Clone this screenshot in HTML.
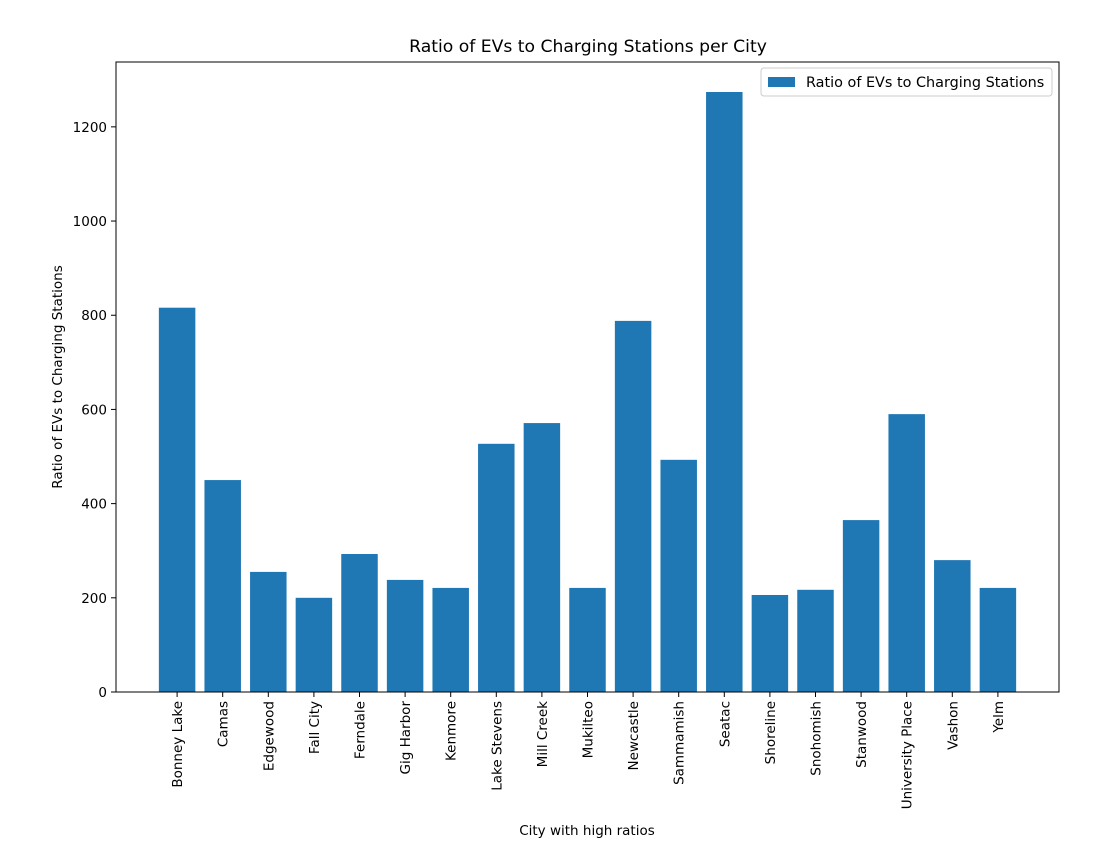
<!DOCTYPE html>
<html><head><meta charset="utf-8"><style>
body{margin:0;background:#fff;}
svg text{font-family:"DejaVu Sans","Liberation Sans",sans-serif;fill:#000;}
</style></head><body>
<svg id="chart" width="1115" height="848">
<text x="588" y="52" font-size="17.2" text-anchor="middle">Ratio of EVs to Charging Stations per City</text>
<g id="bars"></g><g id="xticks"></g><g id="yticks"></g>
<rect x="116" y="62" width="943" height="630" fill="none" stroke="#000" stroke-width="1"/>
<text x="587" y="835" font-size="13.5" text-anchor="middle">City with high ratios</text>
<text transform="translate(62,377) rotate(-90)" font-size="13.5" text-anchor="middle">Ratio of EVs to Charging Stations</text>
<g>
<rect x="761" y="68" width="291" height="28" fill="#fff" stroke="#ccc" rx="3"/>
<rect x="768" y="77" width="27" height="10" fill="#1f77b4"/>
<text x="806" y="87" font-size="14.4">Ratio of EVs to Charging Stations</text>
</g>
</svg>
<script>
const categories=["Bonney Lake","Camas","Edgewood","Fall City","Ferndale","Gig Harbor","Kenmore","Lake Stevens","Mill Creek","Mukilteo","Newcastle","Sammamish","Seatac","Shoreline","Snohomish","Stanwood","University Place","Vashon","Yelm"];
const values=[816,450,255,200,293,238,221,527,571,221,788,493,1274,206,217,365,590,280,221];
const yTicks=[0,200,400,600,800,1000,1200];
const NS="http://www.w3.org/2000/svg";
const L=116,R=1059,T=62,B=692;
const n=categories.length;
const xmin=-0.4-0.05*(n-1+0.8),xmax=n-1+0.4+0.05*(n-1+0.8);
const ymax=Math.max(...values)*1.05;
const xs=v=>L+(v-xmin)/(xmax-xmin)*(R-L);
const ys=v=>B-v/ymax*(B-T);
function mk(t,a,p){const e=document.createElementNS(NS,t);for(const k in a)e.setAttribute(k,a[k]);p.appendChild(e);return e;}
const gb=document.getElementById('bars'),gx=document.getElementById('xticks'),gy=document.getElementById('yticks');
values.forEach((v,i)=>{
const r=mk('rect',{x:xs(i-0.4),y:ys(v),width:xs(i+0.4)-xs(i-0.4),height:B-ys(v),fill:'#1f77b4'},gb);


const cx=xs(i);
mk('line',{x1:cx,x2:cx,y1:B,y2:B+5,stroke:'#000'},gx);
const t=mk('text',{transform:`translate(${cx+5},${B+9}) rotate(-90)`,'font-size':13.5,'text-anchor':'end'},gx);
t.textContent=categories[i];


});
yTicks.forEach(v=>{
const y=ys(v);
mk('line',{x1:L-5,x2:L,y1:y,y2:y,stroke:'#000'},gy);
const t=mk('text',{x:L-9,y:y+5,'font-size':13.5,'text-anchor':'end'},gy);
t.textContent=v;


});
</script>
</body></html>
